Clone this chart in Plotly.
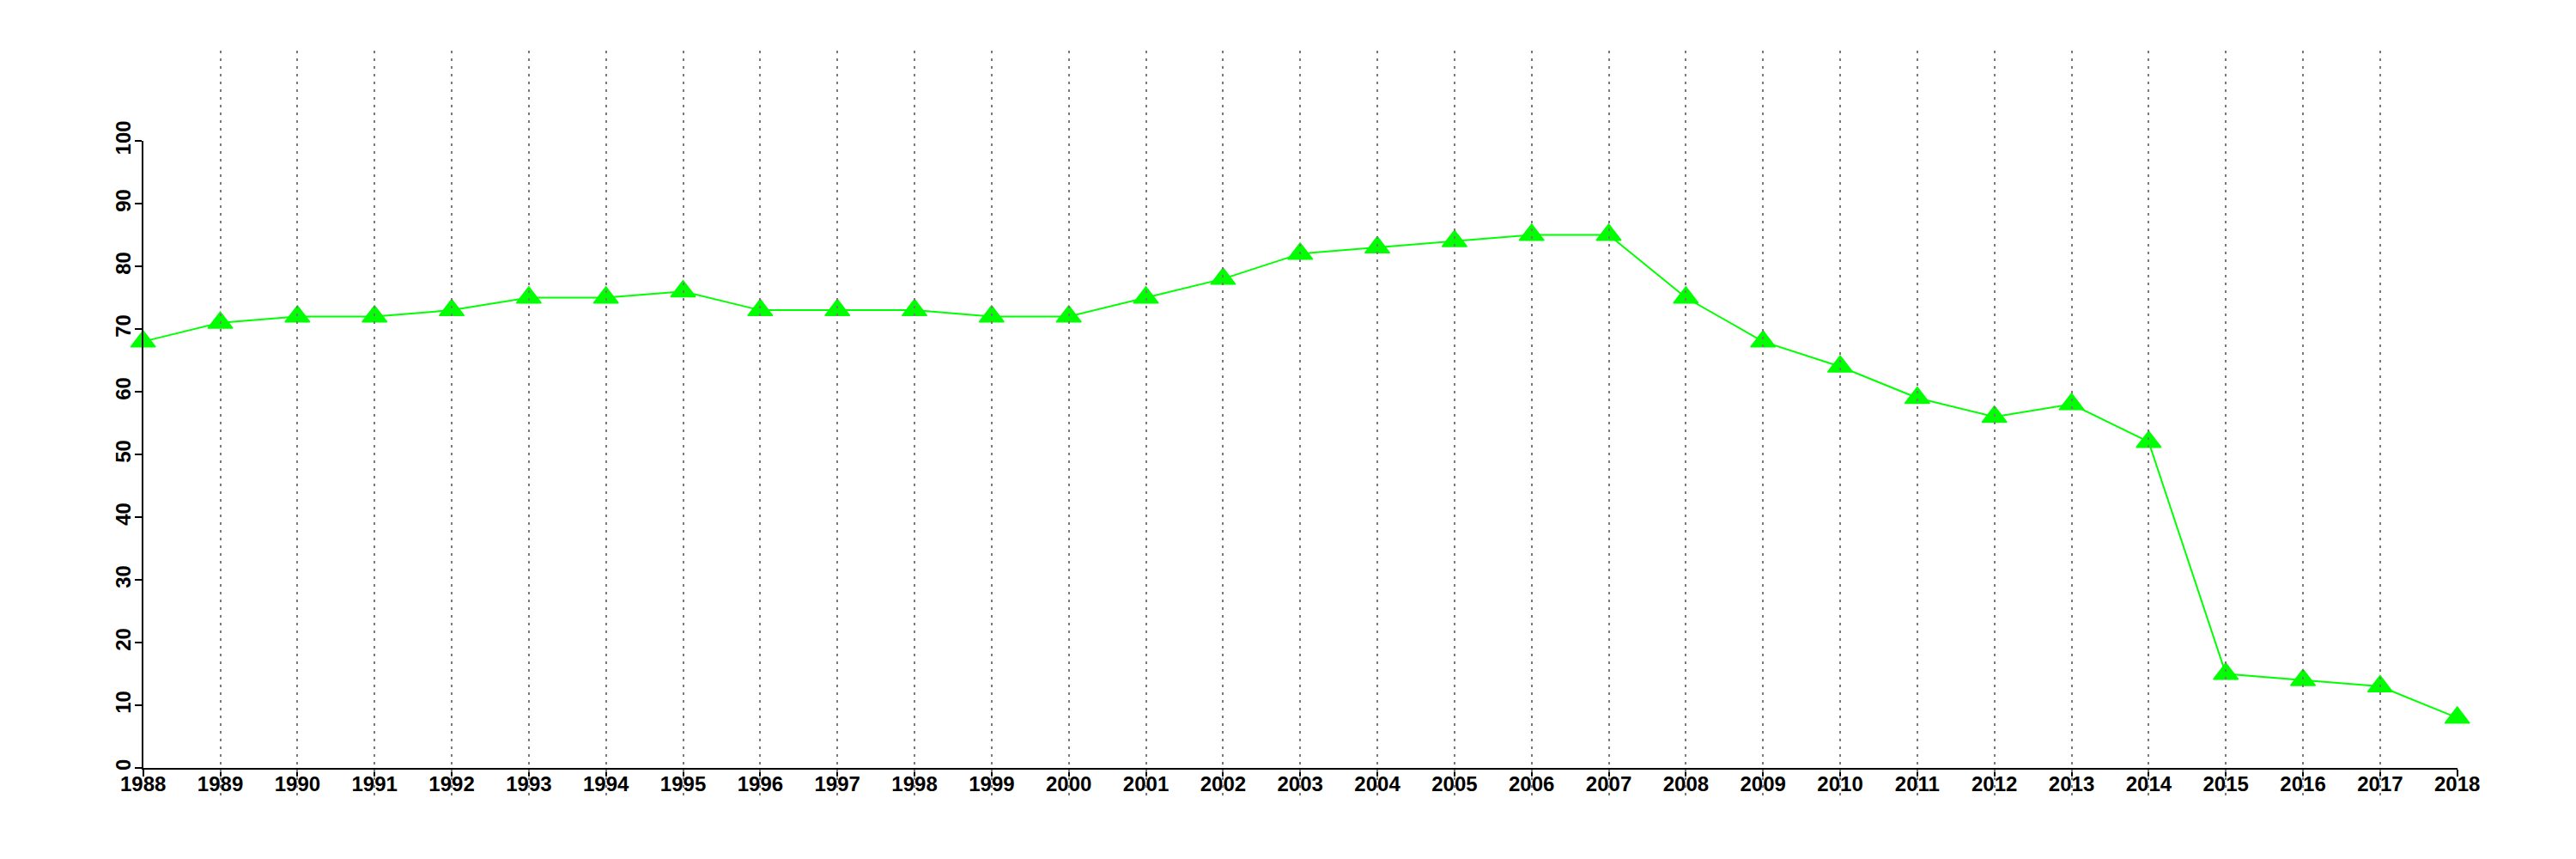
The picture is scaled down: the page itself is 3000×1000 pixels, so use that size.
import plotly.graph_objects as go

years = list(range(1988, 2019))
values = [68, 71, 72, 72, 73, 75, 75, 76, 73, 73, 73, 72, 72, 75, 78,
          82, 83, 84, 85, 85, 75, 68, 64, 59, 56, 58, 52, 15, 14, 13, 8]
y_ticks = list(range(0, 101, 10))

W, H = 3000, 1000
OFF = 8  # page body margin
x_left_px, x_right_px = 166.7 - OFF, 2861.7 - OFF
y_zero_px, y_top_px = 894 - OFF, 164 - OFF
grid_top_px, grid_bot_px = 59 - OFF, 927 - OFF

xdom = [x_left_px / W, x_right_px / W]
ydom = [(H - y_zero_px) / H, (H - y_top_px) / H]
y2dom = [(H - grid_bot_px) / H, (H - grid_top_px) / H]

tickfont = dict(family="Liberation Sans, Arial, sans-serif", size=24, color="black", weight="bold")

fig = go.Figure()
fig.add_trace(go.Scatter(
    x=years, y=values, mode="lines+markers",
    line=dict(color="#00FF00", width=2),
    marker=dict(symbol="triangle-up", size=25, color="#00FF00",
                line=dict(color="#00FF00", width=1.5)),
    cliponaxis=False, showlegend=False, hoverinfo="x+y",
))
fig.add_trace(go.Scatter(x=[], y=[], xaxis="x2", yaxis="y2", showlegend=False))

fig.update_layout(
    template="none",
    width=W, height=H,
    margin=dict(l=0, r=0, t=0, b=0, pad=0),
    paper_bgcolor="white", plot_bgcolor="rgba(0,0,0,0)",
    xaxis=dict(domain=xdom, range=[1988, 2018], anchor="y", automargin=False,
               tickvals=years, ticktext=[str(y) for y in years],
               showgrid=False, zeroline=False,
               showline=True, linewidth=2, linecolor="black",
               ticks="outside", ticklen=8, tickwidth=2, tickcolor="black",
               ticklabelstandoff=-12, tickfont=tickfont),
    yaxis=dict(domain=ydom, range=[0, 100], anchor="x", automargin=False,
               tickvals=y_ticks, ticktext=[str(v) for v in y_ticks],
               showgrid=False, zeroline=False,
               showline=True, linewidth=2, linecolor="black",
               ticks="outside", ticklen=8, tickwidth=2, tickcolor="black",
               ticklabelstandoff=-5, tickangle=-90, tickfont=tickfont),
    xaxis2=dict(domain=xdom, range=[1988, 2018], anchor="y2", automargin=False,
                tickvals=years, showgrid=True, gridcolor="#7a7a7a",
                gridwidth=2, griddash="3px,6px",
                showticklabels=False, ticks="", showline=False, zeroline=False),
    yaxis2=dict(domain=y2dom, range=[0, 1], anchor="x2", automargin=False,
                showgrid=False, showticklabels=False, ticks="",
                showline=False, zeroline=False),
)

fig.write_html("out.html")
